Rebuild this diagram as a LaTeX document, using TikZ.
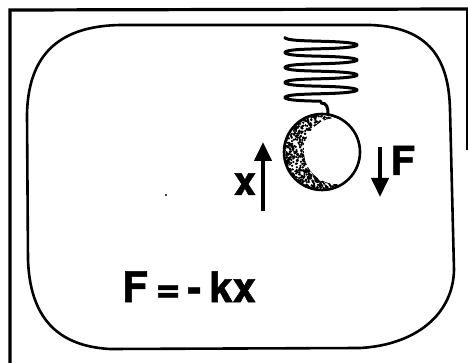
\documentclass[tikz,border=0pt]{standalone}
\usepackage{fontspec}
\setmainfont{TeX Gyre Heros}
\newfontfamily\heavyfont{TeX Gyre Heros}[BoldFeatures={FakeBold=1.2}]
\usetikzlibrary{arrows.meta}
\begin{document}
\begin{tikzpicture}[x=1pt,y=-1pt,
  frame/.style={line width=3.2pt},
  screen/.style={line width=2.6pt, line join=round},
  wire/.style={line width=3pt, line cap=round, line join=round},
  vec/.style={line width=4pt, -{Triangle[length=19pt,width=17pt]}},
  lbl/.style={font=\fontsize{40}{40}\heavyfont\bfseries, inner sep=0pt, anchor=base},
  law/.style={font=\fontsize{42}{42}\heavyfont\bfseries, inner sep=0pt, anchor=base west}
]
\useasboundingbox (0,0) rectangle (468,363);
\fill[white] (0,0) rectangle (468,363);

% outer frame, cut off at the right and bottom
\coordinate (fBL) at (10,363);
\coordinate (fTL) at (10,10);
\coordinate (fTR) at (468,9);
\draw[frame] (fBL) -- (fTL) -- (fTR);
\coordinate (rTop) at (467,10);
\coordinate (rBot) at (467,150);
\draw[line width=1.4pt] (rTop) -- (rBot);

% rounded screen outline
\draw[screen] (120,25) -- (370,25)
  .. controls (430,27) and (449,60) .. (450,110)
  -- (454,270)
  .. controls (453,315) and (415,345) .. (360,348)
  -- (110,349)
  .. controls (55,346) and (30,315) .. (28,260)
  -- (27,115)
  .. controls (28,45) and (70,26) .. cycle;

% ball with a stippled shadow on its left side
\coordinate (ball) at (322,152);
\coordinate (ballTop) at (328,115);
\coordinate (shadow) at (337,151);
\begin{scope}
  \clip (ball) circle[radius=37pt];
  \pgfmathsetseed{3}
  \foreach \i in {1,...,1100} {
    \pgfmathsetmacro\px{284+rnd*56}
    \pgfmathsetmacro\py{113+rnd*78}
    \fill (\px,\py) circle[radius=1.25pt];
  }
  \fill[white] (shadow) circle[radius=33pt];
\end{scope}
\draw[line width=2.6pt] (ball) circle[radius=38pt];

% spring: flat coils, the pitch taken up at the left where the wire
% crosses from one coil to the next; a tail runs down to the ball
\coordinate (springEnd) at (321,103);
\draw[wire] plot[domain=-pi:7.5*pi, samples=800, smooth, variable=\t]
  ({321+36*cos(\t r)},
   {45+15*(\t - 1.5*sin(\t r) + 0.3*sin(2*\t r) - sin(3*\t r)/30)/(2*pi) + 3.5*sin(\t r)});
\draw[wire] (springEnd) .. controls (327,103) and (328,107) .. (ballTop);

% displacement and force vectors
\coordinate (xTail) at (263,211);
\coordinate (xTip) at (263,142);
\draw[vec] (xTail) -- (xTip);
\node[lbl] (xlab) at (245,195) {x};

\coordinate (fTail) at (380,147);
\coordinate (fTip) at (380,197);
\draw[vec] (fTail) -- (fTip);
\node[lbl] (flab) at (403,175) {F};

% Hooke's law
\node[law] (law) at (122,302) {F\kern8pt=\kern7pt-\kern8pt kx};

% speck
\fill (166,195) circle[radius=1.2pt];
\end{tikzpicture}
\end{document}
